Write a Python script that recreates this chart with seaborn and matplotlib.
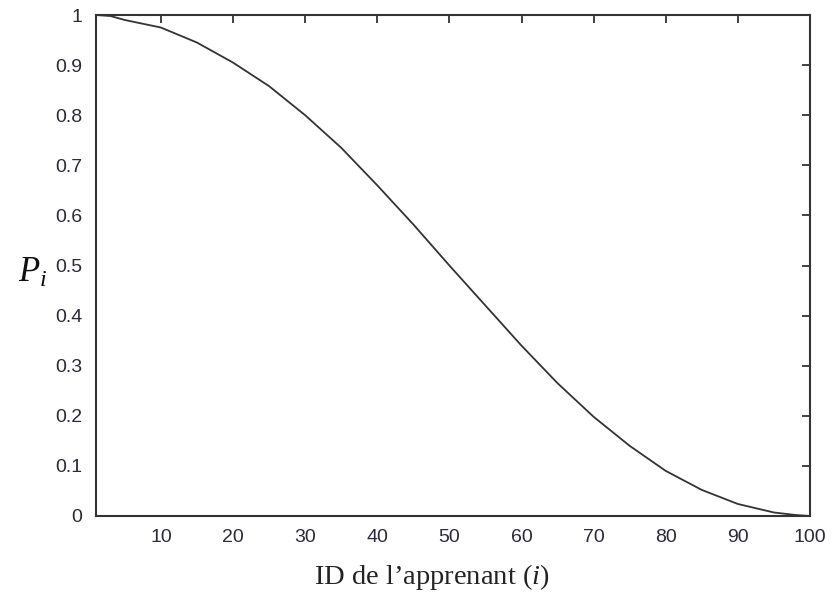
import matplotlib
matplotlib.use("Agg")
import matplotlib.pyplot as plt
import seaborn as sns
import pandas as pd

learner_id = [1, 3, 5, 10, 15, 20, 25, 30, 35, 40, 45, 50, 55, 60, 65, 70, 75, 80, 85, 90, 95, 98, 100]
p_values = [1.0, 0.998, 0.99, 0.975, 0.945, 0.905, 0.858, 0.800, 0.735, 0.660, 0.582, 0.500, 0.420, 0.340, 0.265, 0.198, 0.140, 0.090, 0.052, 0.024, 0.007, 0.002, 0.0]
x_ticks = [10, 20, 30, 40, 50, 60, 70, 80, 90, 100]
y_ticks = [0, 0.1, 0.2, 0.3, 0.4, 0.5, 0.6, 0.7, 0.8, 0.9, 1]
y_tick_labels = ["0", "0.1", "0.2", "0.3", "0.4", "0.5", "0.6", "0.7", "0.8", "0.9", "1"]

sns.set_theme(style="white")
plt.rcParams["font.family"] = ["Liberation Sans", "DejaVu Sans"]
plt.rcParams["mathtext.fontset"] = "custom"
plt.rcParams["mathtext.rm"] = "Liberation Serif"
plt.rcParams["mathtext.it"] = "Liberation Serif:italic"

df = pd.DataFrame({"id": learner_id, "p": p_values})

fig = plt.figure(figsize=(8.36, 5.93), dpi=100)
ax = fig.add_axes([96 / 836, 77 / 593, (810 - 96) / 836, (516 - 15) / 593])
sns.lineplot(data=df, x="id", y="p", ax=ax, color="#333333", linewidth=1.3)

ax.set_xlim(1, 100)
ax.set_ylim(0, 1)
ax.set_xticks(x_ticks)
ax.set_yticks(y_ticks)
ax.set_yticklabels(y_tick_labels)
ax.tick_params(direction="in", length=6, width=1.3, color="#333333",
               top=True, right=True, labelsize=14, labelcolor="#2a2a3a")
ax.tick_params(axis="y", pad=10)
ax.tick_params(axis="x", pad=9)
for s in ax.spines.values():
    s.set_color("#333333")
    s.set_linewidth(1.5)
ax.set_xlabel("")
ax.set_ylabel("")

fig.text(432 / 836, 1 - 577 / 593, r"ID de l’apprenant $\mathit{(i)}$", ha="center", va="center",
         fontsize=20.5, family="Liberation Serif", color="#222222")
fig.text(33 / 836, 1 - 272 / 593, r"$P_i$", ha="center", va="center", fontsize=25, color="#111111")

fig.savefig("out.png", dpi=100)
